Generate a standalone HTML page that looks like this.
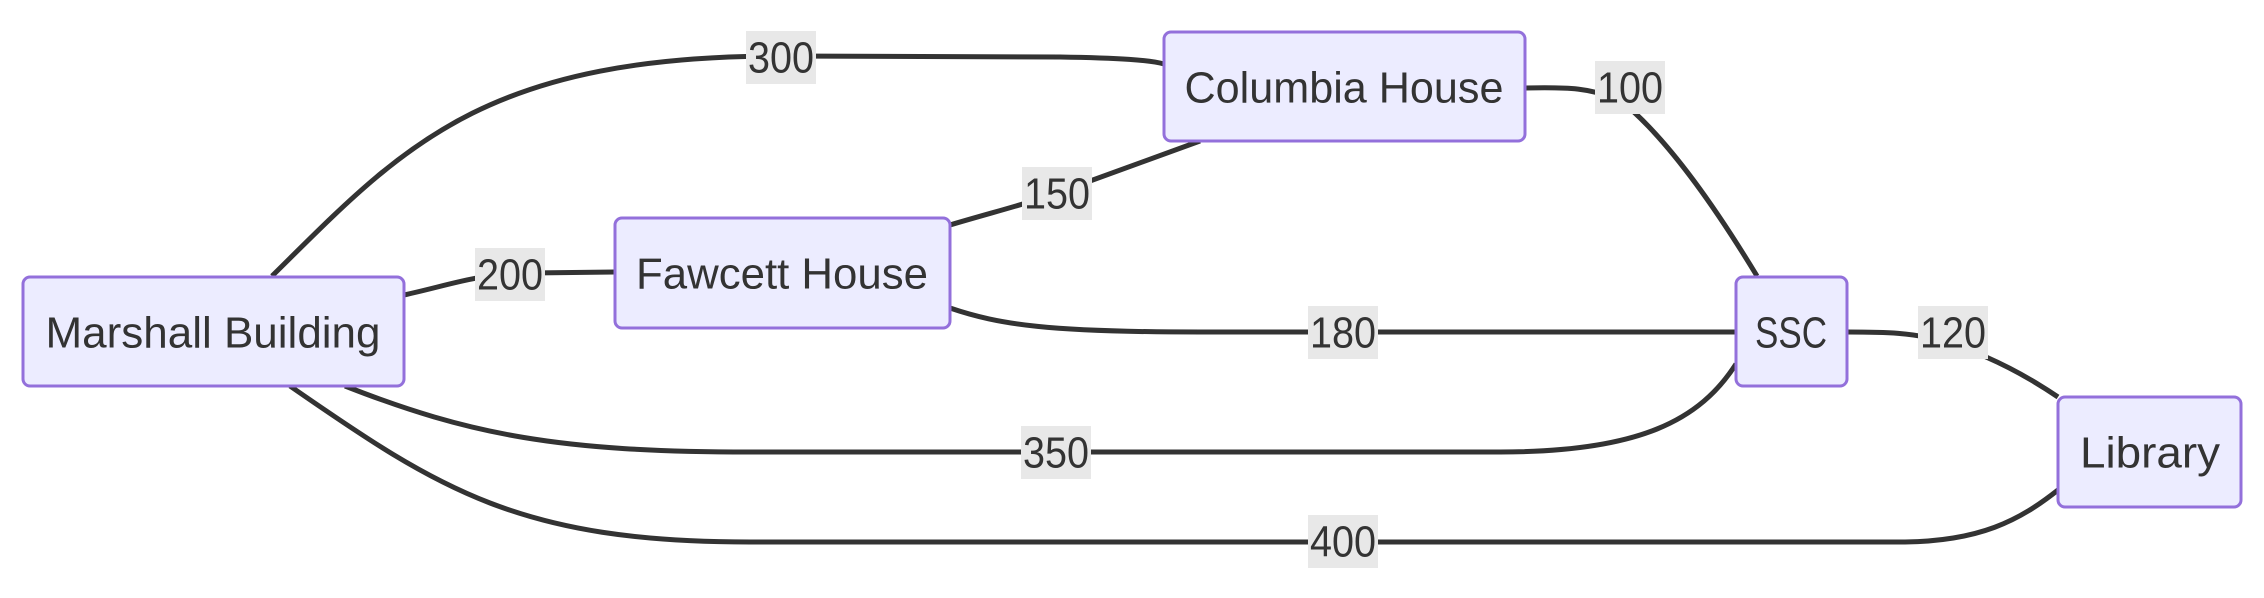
<!DOCTYPE html>
<html><head><meta charset="utf-8"><style>
html,body{margin:0;padding:0;background:#fff;}
svg{display:block;}
text{font-family:"Liberation Sans",sans-serif;fill:#333;}
</style></head><body>
<svg width="2264" height="598" viewBox="0 0 2264 598" xmlns="http://www.w3.org/2000/svg">
<g fill="none" stroke="#333" stroke-width="5">
<path d="M272,276 C400,150 480,56 781,56 L1060,57 C1120,58 1150,60 1164,64"/>
<path d="M404,295 C450,285 480,273 530,273 L615,272"/>
<path d="M950,225 C990,213 1030,203 1057,193 C1120,170 1170,152 1200,141"/>
<path d="M1525,88 C1570,87 1590,88 1620,100 C1670,140 1720,215 1757,276"/>
<path d="M950,308 C1000,325 1050,332 1200,332 L1736,332"/>
<path d="M1847,332 C1890,332 1910,333 1940,340 C1990,355 2030,378 2058,397"/>
<path d="M345,386 C470,435 560,452 750,452 L1500,452 C1640,452 1700,420 1736,364"/>
<path d="M290,386 C440,490 520,542 750,542 L1900,542 C1980,542 2020,520 2058,490"/>
</g>
<g fill="#ECECFF" stroke="#9370DB" stroke-width="3">
<rect x="23" y="277" width="381" height="109" rx="7"/>
<rect x="615" y="218" width="335" height="110" rx="7"/>
<rect x="1164" y="32" width="361" height="109" rx="7"/>
<rect x="1736" y="277" width="111" height="109" rx="7"/>
<rect x="2058" y="397" width="183" height="110" rx="7"/>
</g>
<g font-size="44" text-anchor="middle" dominant-baseline="central" lengthAdjust="spacingAndGlyphs">
<text x="213" y="333" textLength="335" lengthAdjust="spacingAndGlyphs">Marshall Building</text>
<text x="782" y="274" textLength="292" lengthAdjust="spacingAndGlyphs">Fawcett House</text>
<text x="1344" y="88" textLength="319" lengthAdjust="spacingAndGlyphs">Columbia House</text>
<text x="1791" y="333" textLength="72" lengthAdjust="spacingAndGlyphs">SSC</text>
<text x="2150" y="453" textLength="140" lengthAdjust="spacingAndGlyphs">Library</text>
</g>
<g fill="#e8e8e8">
<rect x="746" y="31" width="70" height="53"/>
<rect x="1595" y="61" width="70" height="53"/>
<rect x="1022" y="167" width="70" height="53"/>
<rect x="475" y="248" width="70" height="53"/>
<rect x="1308" y="306" width="70" height="53"/>
<rect x="1918" y="306" width="70" height="53"/>
<rect x="1021" y="426" width="70" height="53"/>
<rect x="1308" y="515" width="70" height="53"/>
</g>
<g font-size="44" text-anchor="middle" dominant-baseline="central">
<text x="781" y="58" textLength="66" lengthAdjust="spacingAndGlyphs">300</text>
<text x="1630" y="88" textLength="66" lengthAdjust="spacingAndGlyphs">100</text>
<text x="1057" y="194" textLength="66" lengthAdjust="spacingAndGlyphs">150</text>
<text x="510" y="275" textLength="66" lengthAdjust="spacingAndGlyphs">200</text>
<text x="1343" y="333" textLength="66" lengthAdjust="spacingAndGlyphs">180</text>
<text x="1953" y="333" textLength="66" lengthAdjust="spacingAndGlyphs">120</text>
<text x="1056" y="453" textLength="66" lengthAdjust="spacingAndGlyphs">350</text>
<text x="1343" y="542" textLength="66" lengthAdjust="spacingAndGlyphs">400</text>
</g>
</svg>
</body></html>
